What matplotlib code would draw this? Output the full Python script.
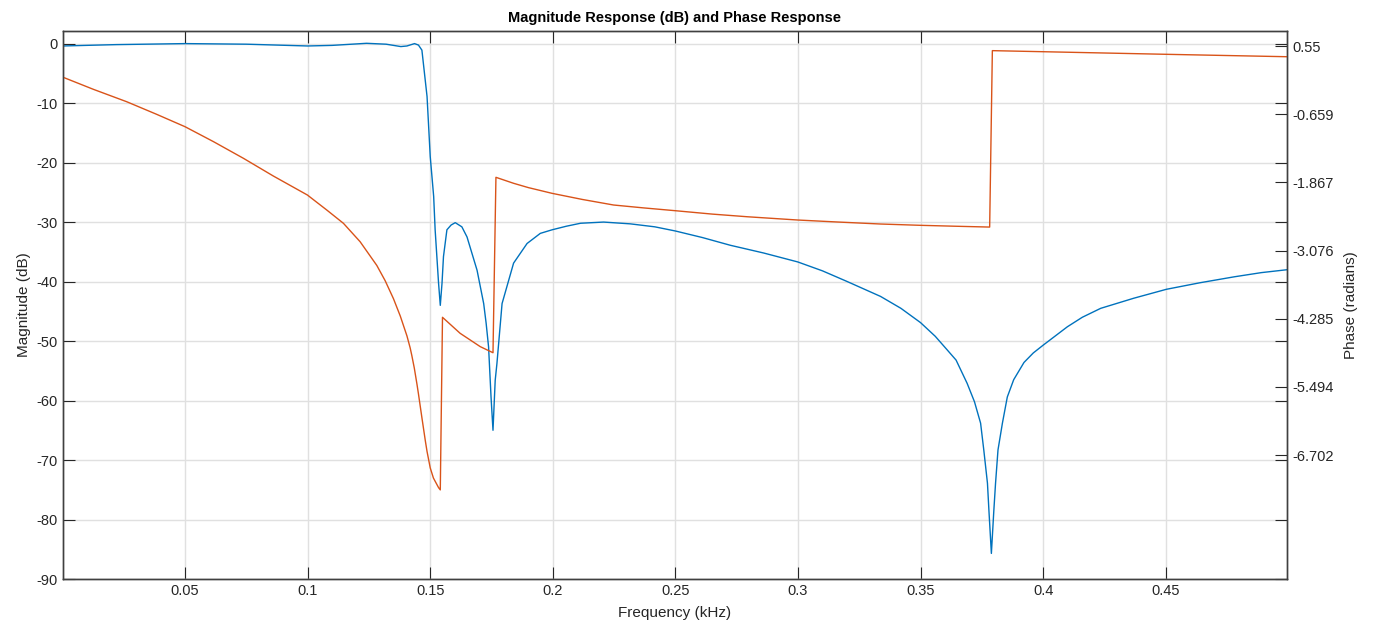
import matplotlib.pyplot as plt

plt.rcParams['font.family'] = ['Liberation Sans', 'DejaVu Sans']
plt.rcParams['axes.unicode_minus'] = False

# magnitude response (dB)
mag_f = [0.0, 0.022, 0.05, 0.075, 0.1, 0.11, 0.124, 0.132, 0.138, 0.1405, 0.1436,
         0.1452, 0.1466, 0.1487, 0.15, 0.1514, 0.152, 0.1534, 0.1541, 0.1548, 0.1554,
         0.1568, 0.1585, 0.1602, 0.1629, 0.165, 0.1691, 0.1718, 0.1728, 0.1738, 0.1748,
         0.1756, 0.1765, 0.1772, 0.1793, 0.184, 0.1895, 0.1949, 0.1997, 0.2055, 0.2113,
         0.2207, 0.2316, 0.2416, 0.25, 0.261, 0.2724, 0.286, 0.2999, 0.31, 0.3201,
         0.3337, 0.342, 0.35, 0.356, 0.3609, 0.3645, 0.369, 0.372, 0.3745, 0.3758,
         0.3773, 0.3779, 0.3789, 0.3799, 0.3806, 0.3816, 0.3834, 0.3854, 0.388, 0.3922,
         0.396, 0.4, 0.4099, 0.416, 0.4235, 0.437, 0.4503, 0.464, 0.478, 0.489, 0.4997]
mag_db = [-0.4, -0.17, 0.0, -0.1, -0.4, -0.3, 0.05, -0.1, -0.5, -0.4, 0.0,
          -0.25, -1.1, -8.9, -19.0, -25.7, -31.3, -40.3, -44.0, -40.3, -35.8,
          -31.3, -30.5, -30.1, -30.8, -32.5, -38.1, -43.7, -47.0, -51.0, -59.4,
          -65.0, -56.6, -53.8, -43.7, -36.9, -33.6, -31.9, -31.3, -30.7, -30.2,
          -30.0, -30.3, -30.8, -31.5, -32.6, -33.9, -35.2, -36.7, -38.2, -40.0,
          -42.5, -44.5, -46.9, -49.2, -51.5, -53.2, -57.1, -60.2, -63.8, -68.3,
          -73.9, -78.5, -85.7, -78.5, -73.9, -68.3, -63.8, -59.4, -56.5, -53.6,
          -52.0, -50.7, -47.6, -46.0, -44.5, -42.8, -41.3, -40.2, -39.2, -38.5, -38.0]

# phase response (radians)
ph_f = [0.0, 0.0126, 0.0262, 0.0384, 0.05, 0.0616, 0.0738, 0.086, 0.0999, 0.1078,
        0.1146, 0.1214, 0.1282, 0.1316, 0.135, 0.1378, 0.1405, 0.1418, 0.1425, 0.1435,
        0.1446, 0.1452, 0.1459, 0.1466, 0.148, 0.1487, 0.15, 0.1513, 0.1534, 0.1541,
        0.155, 0.1622, 0.1704, 0.1756,
        0.1768, 0.184, 0.19, 0.1997, 0.212, 0.2248, 0.237, 0.25, 0.265, 0.2793, 0.2999,
        0.316, 0.3337, 0.35, 0.364, 0.3782,
        0.3793, 0.4001, 0.4503, 0.4997]
ph_rad = [0.0, -0.218, -0.438, -0.661, -0.881, -1.146, -1.441, -1.755, -2.092, -2.358,
          -2.594, -2.92, -3.34, -3.61, -3.93, -4.24, -4.59, -4.80, -4.94, -5.16,
          -5.45, -5.62, -5.83, -6.04, -6.45, -6.64, -6.93, -7.11, -7.28, -7.32,
          -4.26, -4.544, -4.78, -4.888,
          -1.778, -1.884, -1.96, -2.062, -2.17, -2.269, -2.32, -2.37, -2.43, -2.477, -2.535,
          -2.57, -2.606, -2.629, -2.645, -2.66,
          0.468, 0.449, 0.403, 0.36]

mag_ticks = [0, -10, -20, -30, -40, -50, -60, -70, -80, -90]
ph_ticks = [0.55, -0.659, -1.867, -3.076, -4.285, -5.494, -6.702]
ph_labels = ['0.55', '-0.659', '-1.867', '-3.076', '-4.285', '-5.494', '-6.702']
f_ticks = [0.05, 0.1, 0.15, 0.2, 0.25, 0.3, 0.35, 0.4, 0.45]
f_labels = ['0.05', '0.1', '0.15', '0.2', '0.25', '0.3', '0.35', '0.4', '0.45']

dark = '#262626'

fig = plt.figure(figsize=(13.74, 6.33), dpi=100)
ax = fig.add_axes([0.0455, 0.0853, 0.8912, 0.8665])
ax2 = ax.twinx()

ax.plot(mag_f, mag_db, color='#0072BD', lw=1.0)
ax2.plot(ph_f, ph_rad, color='#D95319', lw=1.0)

ax.set_xlim(0, 0.4995)
ax.set_ylim(-90, 2.2)
ax2.set_ylim(-8.90, 0.825)

ax.set_xticks(f_ticks)
ax.set_xticklabels(f_labels)
ax.set_yticks(mag_ticks)
ax2.set_yticks(ph_ticks)
ax2.set_yticklabels(ph_labels)

ax.grid(True, color='#e0e0e0', lw=1.0)
ax.set_axisbelow(True)

ax.tick_params(direction='in', length=8.5, width=0.8, colors=dark, labelsize=10.5,
               top=True, right=True, labelright=False)
ax2.tick_params(direction='in', length=8.5, width=0.8, colors=dark, labelsize=10.5,
                left=False, right=True)
for a in (ax, ax2):
    for s in a.spines.values():
        s.set_color('#404040')
        s.set_linewidth(1.0)

ax.set_xlabel('Frequency (kHz)', fontsize=11, color=dark, labelpad=6)
ax.set_ylabel('Magnitude (dB)', fontsize=11, color=dark, labelpad=4)
ax2.set_ylabel('Phase (radians)', fontsize=11, color=dark, labelpad=8)
ax.set_title('Magnitude Response (dB) and Phase Response', fontsize=10.5,
             fontweight='bold', color='black', pad=6)

fig.savefig('out.png', dpi=100)
